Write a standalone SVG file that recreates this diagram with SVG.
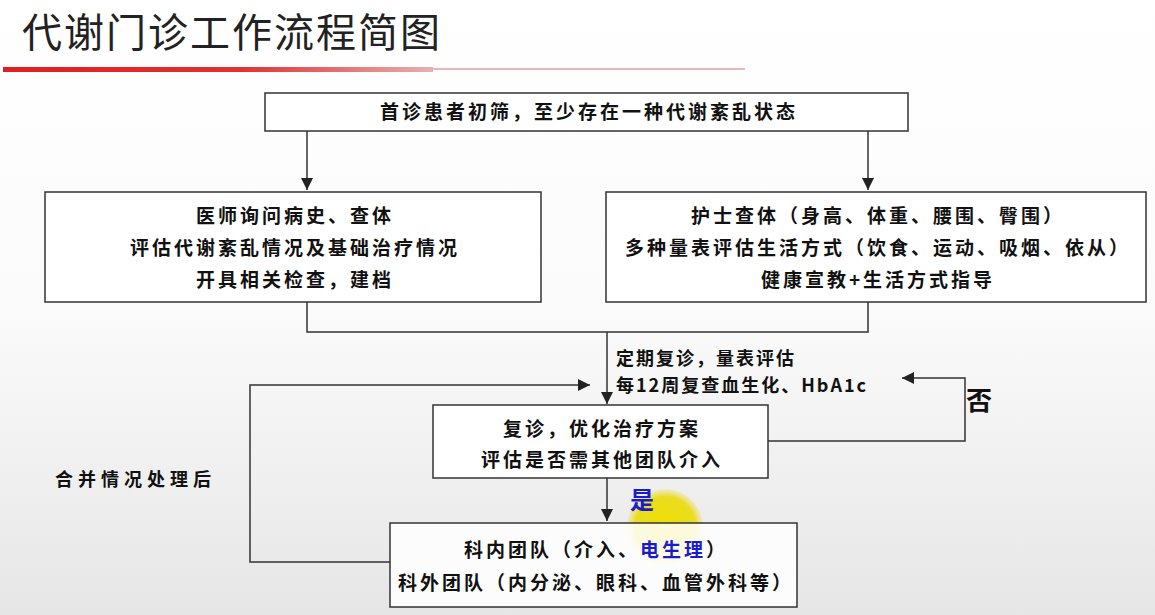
<svg xmlns="http://www.w3.org/2000/svg" width="1155" height="615" viewBox="0 0 1155 615">
<defs>
<linearGradient id="bg" x1="0" y1="0" x2="0" y2="1"><stop offset="0" stop-color="#ffffff"/><stop offset="0.5" stop-color="#fbfbfb"/><stop offset="1" stop-color="#e6e6e6"/></linearGradient>
<linearGradient id="red" x1="0" y1="0" x2="1" y2="0"><stop offset="0" stop-color="#e02020"/><stop offset="0.55" stop-color="#e03030"/><stop offset="1" stop-color="#e8b0b0"/></linearGradient>
<radialGradient id="hl"><stop offset="0" stop-color="#f0e000"/><stop offset="0.8" stop-color="#eadc20"/><stop offset="1" stop-color="#f0e060" stop-opacity="0.3"/></radialGradient>
<marker id="ar" viewBox="0 0 10 10" refX="10" refY="5" markerWidth="8" markerHeight="8" orient="auto"><path d="M0,0 L10,5 L0,10 z" fill="#222"/></marker>
</defs>
<style>
.box{fill:#fff;stroke:#333;stroke-width:1.5}
.t{font-family:"Noto Sans CJK SC","Liberation Sans",sans-serif;font-size:19px;letter-spacing:3px;fill:#111;font-weight:bold;text-anchor:middle}
.l{font-family:"Noto Sans CJK SC","Liberation Sans",sans-serif;font-size:18px;letter-spacing:2px;fill:#111;font-weight:bold}
.c{fill:none;stroke:#333;stroke-width:1.5}
</style>
<rect width="1155" height="615" fill="url(#bg)"/>
<text x="22" y="47" font-family="Noto Sans CJK SC,sans-serif" font-size="40" letter-spacing="2" fill="#222">代谢门诊工作流程简图</text>
<rect x="3" y="67" width="430" height="5" fill="url(#red)"/>
<line x1="433" y1="69" x2="745" y2="69" stroke="#e0a0a0" stroke-width="1.5"/>
<circle cx="665" cy="527" r="38" fill="url(#hl)"/>
<g id="connectors">
<line class="c" x1="307" y1="131" x2="307" y2="190" marker-end="url(#ar)"/>
<line class="c" x1="868" y1="131" x2="868" y2="190" marker-end="url(#ar)"/>
<polyline class="c" points="307,302 307,332 868,332 868,302"/>
<line class="c" x1="607" y1="332" x2="607" y2="404" marker-end="url(#ar)"/>
<polyline class="c" points="768,441 965,441 965,378 902,378" marker-end="url(#ar)"/>
<line class="c" x1="607" y1="478" x2="607" y2="521" marker-end="url(#ar)"/>
<polyline class="c" points="390,562 250,562 250,385 590,385" marker-end="url(#ar)"/>
</g>
<g id="n1"><rect class="box" x="265" y="93" width="643" height="38"/><text class="t" x="589" y="119">首诊患者初筛，至少存在一种代谢紊乱状态</text></g>
<g id="n2"><rect class="box" x="45" y="192" width="496" height="110"/>
<text class="t" x="295" y="223">医师询问病史、查体</text><text class="t" x="295" y="255">评估代谢紊乱情况及基础治疗情况</text><text class="t" x="295" y="287">开具相关检查，建档</text></g>
<g id="n3"><rect class="box" x="606" y="192" width="540" height="110"/>
<text class="t" x="878" y="223">护士查体（身高、体重、腰围、臀围）</text><text class="t" x="878" y="255">多种量表评估生活方式（饮食、运动、吸烟、依从）</text><text class="t" x="878" y="287">健康宣教+生活方式指导</text></g>
<text class="l" x="616" y="365">定期复诊，量表评估</text>
<text class="l" x="616" y="392">每12周复查血生化、HbA1c</text>
<g id="n4"><rect class="box" x="433" y="405" width="335" height="73"/>
<text class="t" x="602" y="436">复诊，优化治疗方案</text><text class="t" x="602" y="467">评估是否需其他团队介入</text></g>
<text x="966" y="410" font-family="Noto Sans CJK SC,sans-serif" font-size="26" font-weight="bold" fill="#111">否</text>
<text x="630" y="509" font-family="Noto Sans CJK SC,sans-serif" font-size="24" font-weight="bold" fill="#1a1ad0">是</text>
<text class="l" x="55" y="486" style="letter-spacing:5px">合并情况处理后</text>
<g id="n5"><rect class="box" x="390" y="523" width="407" height="84" fill-opacity="0.85"/>
<text class="t" x="596" y="557">科内团队（介入、<tspan fill="#1a1ad0">电生理</tspan>）</text><text class="t" x="596" y="590">科外团队（内分泌、眼科、血管外科等）</text></g>
</svg>
